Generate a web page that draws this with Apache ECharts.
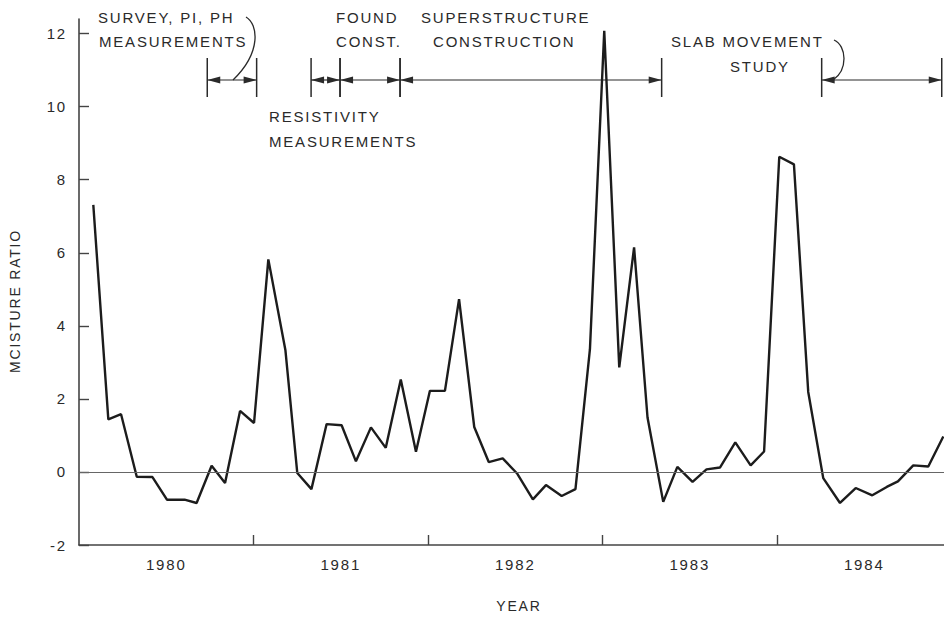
<!DOCTYPE html>
<html>
<head>
<meta charset="utf-8">
<script src="https://cdn.jsdelivr.net/npm/echarts@6/dist/echarts.min.js"></script>
<style>
  body { margin: 0; background: #fff; }
  #main { width: 944px; height: 619px; letter-spacing: 1.8px; }
</style>
</head>
<body>
<div id="main"></div>
<script>
// monthly readings, x in decimal years
var years = [
  1980.082, 1980.168, 1980.241, 1980.331, 1980.421, 1980.504, 1980.605, 1980.674, 1980.760, 1980.837,
  1980.923, 1981.003, 1981.085, 1981.183, 1981.251, 1981.332, 1981.419, 1981.505, 1981.587, 1981.673,
  1981.758, 1981.844, 1981.931, 1982.011, 1982.097, 1982.178, 1982.265, 1982.348, 1982.428, 1982.512,
  1982.601, 1982.676, 1982.766, 1982.845, 1982.928, 1983.010, 1983.096, 1983.181, 1983.258, 1983.348,
  1983.429, 1983.516, 1983.596, 1983.673, 1983.761, 1983.849, 1983.926, 1984.013, 1984.097, 1984.179,
  1984.265, 1984.361, 1984.451, 1984.546, 1984.629, 1984.693, 1984.781, 1984.867, 1984.953
];
var ratio = [
  7.31, 1.44, 1.58, -0.13, -0.14, -0.76, -0.76, -0.85, 0.17, -0.30,
  1.67, 1.34, 5.82, 3.33, -0.03, -0.47, 1.31, 1.28, 0.29, 1.22,
  0.66, 2.53, 0.55, 2.22, 2.22, 4.73, 1.23, 0.27, 0.37, -0.05,
  -0.75, -0.36, -0.66, -0.47, 3.36, 12.08, 2.86, 6.15, 1.49, -0.82,
  0.14, -0.27, 0.07, 0.12, 0.81, 0.18, 0.56, 8.63, 8.42, 2.19,
  -0.17, -0.85, -0.44, -0.64, -0.41, -0.26, 0.18, 0.15, 0.97
];

var yTicks = [-2, 0, 2, 4, 6, 8, 10, 12];
var yearTicks = [1981, 1982, 1983, 1984];
var yearLabelPos = [1980.5, 1981.5, 1982.5, 1983.5, 1984.5];

// project phases (start, end)
var phaseStart = [1980.735, 1981.330, 1981.496, 1981.840, 1984.256];
var phaseEnd   = [1981.018, 1981.496, 1981.840, 1983.339, 1984.944];
var phaseLevel = 10.73;

var ink = '#2a2a2a';
var font = '"Liberation Sans", Arial, sans-serif';

var points = years.map(function (y, i) { return [y, ratio[i]]; });
var phases = phaseStart.map(function (s, i) { return [s, phaseEnd[i]]; });

function renderPhase(params, api) {
  var a = api.coord([api.value(0), phaseLevel]);
  var b = api.coord([api.value(1), phaseLevel]);
  var y = a[1];
  var ah = 13, aw = 3.6;
  return {
    type: 'group',
    children: [
      { type: 'line', shape: { x1: a[0], y1: y, x2: b[0], y2: y }, style: { stroke: ink, lineWidth: 1.2 } },
      { type: 'line', shape: { x1: a[0], y1: y - 22, x2: a[0], y2: y + 17 }, style: { stroke: ink, lineWidth: 1.5 } },
      { type: 'line', shape: { x1: b[0], y1: y - 22, x2: b[0], y2: y + 17 }, style: { stroke: ink, lineWidth: 1.5 } },
      { type: 'polygon', shape: { points: [[a[0], y], [a[0] + ah, y - aw], [a[0] + ah, y + aw]] }, style: { fill: ink } },
      { type: 'polygon', shape: { points: [[b[0], y], [b[0] - ah, y - aw], [b[0] - ah, y + aw]] }, style: { fill: ink } }
    ]
  };
}

function note(text, x, y) {
  return {
    type: 'text', x: x, y: y, silent: true,
    style: { text: text, fill: ink, font: '15px ' + font, textVerticalAlign: 'middle' }
  };
}

function leader(x1, y1, cx1, cy1, cx2, cy2, x2, y2) {
  return {
    type: 'bezierCurve', silent: true,
    shape: { x1: x1, y1: y1, cpx1: cx1, cpy1: cy1, cpx2: cx2, cpy2: cy2, x2: x2, y2: y2 },
    style: { stroke: ink, lineWidth: 1.3, fill: null }
  };
}

var chart = echarts.init(document.getElementById('main'), null, { renderer: 'svg' });

var option = {
  animation: false,
  backgroundColor: '#fff',
  grid: { left: 79, right: 0, top: 19, bottom: 74, containLabel: false },
  xAxis: {
    type: 'value',
    min: 1980,
    max: 1984.957,
    splitLine: { show: false },
    axisLine: { onZero: false, lineStyle: { color: '#444', width: 1.6 } },
    axisTick: { inside: true, length: 10, customValues: yearTicks, lineStyle: { color: '#444', width: 1.4 } },
    axisLabel: {
      customValues: yearLabelPos,
      margin: 12,
      color: ink,
      fontFamily: font,
      fontSize: 15,
      formatter: function (v) { return String(Math.floor(v)); }
    }
  },
  yAxis: {
    type: 'value',
    min: -2,
    max: 12.4,
    interval: 2,
    splitLine: { show: false },
    axisLine: { show: true, onZero: false, lineStyle: { color: '#444', width: 1.6 } },
    axisTick: { show: true, inside: true, length: 10, customValues: yTicks, lineStyle: { color: '#444', width: 1.4 } },
    axisLabel: {
      customValues: yTicks,
      margin: 12,
      color: ink,
      fontFamily: font,
      fontSize: 15
    }
  },
  graphic: [
    note('SURVEY, PI, PH', 98, 17),
    note('MEASUREMENTS', 99, 41),
    note('RESISTIVITY', 269, 116),
    note('MEASUREMENTS', 269, 141),
    note('FOUND', 336, 17),
    note('CONST.', 336, 41),
    note('SUPERSTRUCTURE', 421, 17),
    note('CONSTRUCTION', 433, 41),
    note('SLAB MOVEMENT', 671, 41),
    note('STUDY', 730, 66),
    leader(246, 17, 258, 24, 262, 52, 233, 80),
    leader(834, 40, 847, 46, 848, 70, 833, 80),
    {
      type: 'text', x: 15, y: 301, rotation: Math.PI / 2, silent: true,
      style: { text: 'MCISTURE RATIO', fill: ink, font: '14px ' + font, textAlign: 'center', textVerticalAlign: 'middle' }
    },
    {
      type: 'text', x: 519, y: 606, silent: true,
      style: { text: 'YEAR', fill: ink, font: '14px ' + font, textAlign: 'center', textVerticalAlign: 'middle' }
    }
  ],
  series: [
    {
      name: 'Moisture ratio',
      type: 'line',
      data: points,
      symbol: 'none',
      lineStyle: { color: '#1c1c1c', width: 2.4 },
      markLine: {
        silent: true,
        symbol: ['none', 'none'],
        label: { show: false },
        lineStyle: { color: '#666', width: 1, type: 'solid' },
        data: [{ yAxis: 0 }]
      }
    },
    {
      name: 'Phases',
      type: 'custom',
      clip: false,
      silent: true,
      encode: { x: [0, 1] },
      data: phases,
      renderItem: renderPhase
    }
  ]
};

chart.setOption(option);
</script>
</body>
</html>
